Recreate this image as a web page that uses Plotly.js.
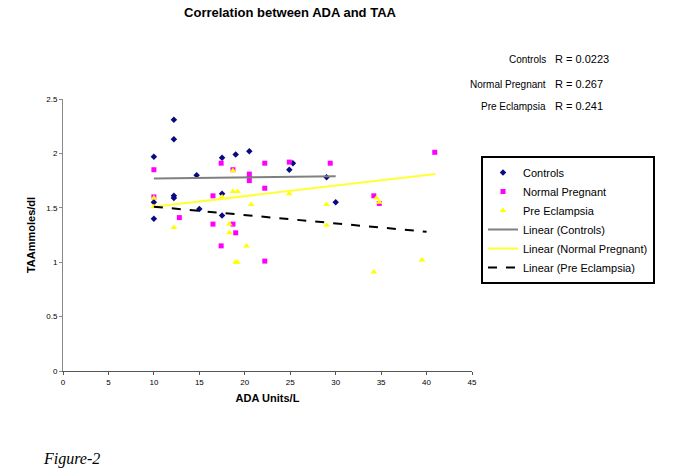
<!DOCTYPE html>
<html><head><meta charset="utf-8">
<script src="https://cdn.plot.ly/plotly-3.0.1.min.js"></script>
<style>html,body{margin:0;padding:0;background:#fff;}#chart{width:689px;height:469px;}</style>
</head><body><div id="chart"></div>
<script>
const controlsX = [12.2, 12.2, 10.0, 17.5, 19.0, 20.5, 24.9, 25.3, 14.7, 20.5, 12.2, 12.2, 17.5, 10.0, 15.0, 17.5, 10.0, 29.0, 30.0];
const controlsY = [2.31, 2.13, 1.97, 1.96, 1.99, 2.02, 1.85, 1.91, 1.80, 1.78, 1.61, 1.59, 1.63, 1.55, 1.49, 1.43, 1.40, 1.78, 1.55];
const normalX = [10.0, 17.4, 18.7, 22.2, 24.9, 20.5, 20.5, 22.2, 10.0, 16.5, 12.8, 16.5, 18.7, 19.0, 17.4, 22.2, 29.4, 40.9, 34.2, 34.8];
const normalY = [1.85, 1.91, 1.85, 1.91, 1.92, 1.81, 1.75, 1.68, 1.60, 1.61, 1.41, 1.35, 1.35, 1.27, 1.15, 1.01, 1.91, 2.01, 1.61, 1.54];
const preX = [18.7, 10.0, 18.7, 19.2, 17.5, 24.9, 20.7, 10.0, 12.2, 18.3, 18.3, 20.2, 19.0, 19.2, 29.0, 29.0, 34.5, 34.8, 39.5, 34.2];
const preY = [1.84, 1.59, 1.65, 1.65, 1.60, 1.63, 1.53, 1.51, 1.32, 1.35, 1.27, 1.15, 1.00, 1.00, 1.53, 1.34, 1.59, 1.55, 1.02, 0.91];
const trendControlsX = [10, 30], trendControlsY = [1.77, 1.79];
const trendNormalX = [10, 41], trendNormalY = [1.51, 1.81];
const trendPreX = [10, 40], trendPreY = [1.51, 1.28];
const rLabels = ["Controls", "Normal Pregnant", "Pre Eclampsia"];
const rValues = ["R = 0.0223", "R = 0.267", "R = 0.241"];

const F = "Arial, 'Liberation Sans', sans-serif";
const traces = [
  {x: controlsX, y: controlsY, mode: 'markers', type: 'scatter', name: 'Controls',
   marker: {symbol: 'diamond', size: 5, color: '#0a0a80'}},
  {x: normalX, y: normalY, mode: 'markers', type: 'scatter', name: 'Normal Pregnant',
   marker: {symbol: 'square', size: 5, color: '#ff00ff'}},
  {x: preX, y: preY, mode: 'markers', type: 'scatter', name: 'Pre Eclampsia',
   marker: {symbol: 'triangle-up', size: 6, color: '#ffff00'}},
  {x: trendControlsX, y: trendControlsY, mode: 'lines', type: 'scatter', name: 'Linear (Controls)',
   line: {color: '#808080', width: 2}},
  {x: trendNormalX, y: trendNormalY, mode: 'lines', type: 'scatter', name: 'Linear (Normal Pregnant)',
   line: {color: '#ffff33', width: 2}},
  {x: trendPreX, y: trendPreY, mode: 'lines', type: 'scatter', name: 'Linear (Pre Eclampsia)',
   line: {color: '#000000', width: 2, dash: 'dash'}}
];
const annotations = [];
const ry = [59, 84, 106];
for (let i = 0; i < rLabels.length; i++) {
  annotations.push({xref: 'paper', yref: 'paper', x: (548 - 63) / 409, y: (371 - ry[i]) / 272,
    xanchor: 'right', yanchor: 'middle', text: rLabels[i], showarrow: false, font: {family: F, size: 10, color: '#000'}});
  annotations.push({xref: 'paper', yref: 'paper', x: (553 - 63) / 409, y: (371 - ry[i]) / 272,
    xanchor: 'left', yanchor: 'middle', text: rValues[i], showarrow: false, font: {family: F, size: 11, color: '#000'}});
}
annotations.push({xref: 'paper', yref: 'paper', x: (41 - 63) / 409, y: (371 - 459) / 272,
  xanchor: 'left', yanchor: 'middle', text: 'Figure-2', showarrow: false,
  font: {family: "'Liberation Serif', 'Times New Roman', serif", size: 16, color: '#000', style: 'italic'}});

const layout = {
  width: 689, height: 469,
  margin: {l: 63, r: 217, t: 99, b: 98},
  paper_bgcolor: '#fff', plot_bgcolor: '#fff',
  showlegend: true,
  title: {text: '<b>Correlation between ADA and TAA</b>', x: 290 / 689, xanchor: 'center', y: 1 - 12 / 469, yanchor: 'middle',
    font: {family: F, size: 13, color: '#000'}},
  xaxis: {range: [0, 45], dtick: 5, tick0: 0, showgrid: false, zeroline: false, showline: true,
    linecolor: '#555', linewidth: 1, ticks: 'outside', ticklen: 3, tickcolor: '#555',
    tickfont: {family: F, size: 8, color: '#000'},
    title: {text: '<b>ADA Units/L</b>', font: {family: F, size: 11, color: '#000'}, standoff: 8}},
  yaxis: {range: [0, 2.5], dtick: 0.5, tick0: 0, showgrid: false, zeroline: false, showline: true,
    linecolor: '#888', linewidth: 1, ticks: 'outside', ticklen: 3, tickcolor: '#888',
    tickfont: {family: F, size: 8, color: '#000'},
    title: {text: '<b>TAAmmoles/dl</b>', font: {family: F, size: 11, color: '#000'}, standoff: 8}},
  legend: {x: (481 - 63) / 409, y: (371 - 156) / 272, xanchor: 'left', yanchor: 'top',
    bordercolor: '#000', borderwidth: 2, bgcolor: '#fff',
    font: {family: F, size: 11, color: '#000'}, tracegroupgap: 0},
  annotations: annotations
};
Plotly.newPlot('chart', traces, layout, {displayModeBar: false, staticPlot: true});
</script></body></html>
